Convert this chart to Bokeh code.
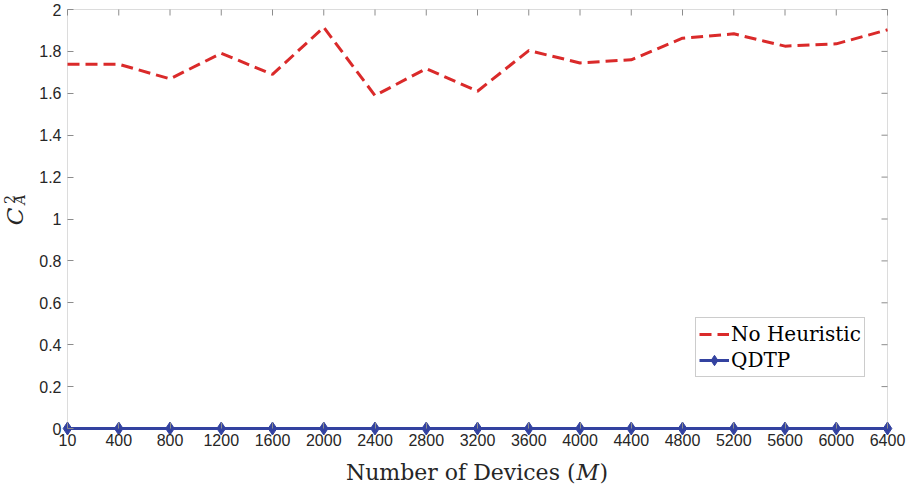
import math
from bokeh.plotting import figure
from bokeh.models import FixedTicker, Label, Range1d, ColumnDataSource, BoxAnnotation
from bokeh.embed import file_html
from bokeh.resources import INLINE

# ---- data ----
devices = ["10", "400", "800", "1200", "1600", "2000", "2400", "2800", "3200",
           "3600", "4000", "4400", "4800", "5200", "5600", "6000", "6400"]
no_heuristic = [1.739, 1.739, 1.669, 1.791, 1.690, 1.915, 1.589, 1.718, 1.610,
                1.804, 1.745, 1.760, 1.863, 1.884, 1.825, 1.836, 1.903]
qdtp = [0.0, 0.0, 0.0, 0.0, 0.0, 0.0, 0.0, 0.0, 0.0,
        0.0, 0.0, 0.0, 0.0, 0.0, 0.0, 0.0, 0.0]
y_ticks = [0, 0.2, 0.4, 0.6, 0.8, 1, 1.2, 1.4, 1.6, 1.8, 2]
y_tick_labels = ["0", "0.2", "0.4", "0.6", "0.8", "1", "1.2", "1.4", "1.6", "1.8", "2"]

RED = "#DA2A2A"
BLUE = "#3342A0"
AX = "#8c8c8c"
TXT = "#262626"

W, H = 914, 484
BOX_L, BOX_R, BOX_T, BOX_B = 67, 887, 9, 428   # axes box in canvas pixels

xpos = list(range(len(devices)))
x_lo, x_hi = xpos[0], xpos[-1]
y_lo, y_hi = y_ticks[0], y_ticks[-1]
PX_X = (BOX_R - BOX_L) / (x_hi - x_lo)
PX_Y = (BOX_B - BOX_T) / (y_hi - y_lo)

src = ColumnDataSource(dict(x=xpos, nh=no_heuristic, q=qdtp))

# frame covers the whole canvas; axes are placed at the box edges
p = figure(width=W, height=H, output_backend="svg", toolbar_location=None, title=None,
           x_range=Range1d(x_lo - BOX_L / PX_X, x_hi + (W - BOX_R) / PX_X),
           y_range=Range1d(y_lo - (H - BOX_B) / PX_Y, y_hi + BOX_T / PX_Y),
           min_border=0, min_border_left=0, min_border_right=0,
           min_border_top=0, min_border_bottom=0)
p.background_fill_color = "white"
p.border_fill_color = "white"
p.outline_line_color = None
p.xgrid.visible = False
p.ygrid.visible = False

xa = p.xaxis[0]
xa.ticker = FixedTicker(ticks=xpos)
xa.major_label_overrides = {i: d for i, d in enumerate(devices)}
xa.fixed_location = y_lo
ya = p.yaxis[0]
ya.ticker = FixedTicker(ticks=y_ticks)
ya.major_label_overrides = {t: l for t, l in zip(y_ticks, y_tick_labels)}
ya.fixed_location = x_lo

for ax in (xa, ya):
    ax.axis_line_color = None
    ax.major_tick_line_color = AX
    ax.major_tick_in = 6
    ax.major_tick_out = 0
    ax.minor_tick_line_color = None
    ax.major_label_text_font = "Liberation Sans"
    ax.major_label_text_font_size = "16px"
    ax.major_label_text_color = TXT
xa.major_label_standoff = 5
ya.major_label_standoff = 6

# axes box
p.add_layout(BoxAnnotation(left=x_lo, right=x_hi, bottom=y_lo, top=y_hi,
                           fill_alpha=0, line_color=AX, line_width=1, level="underlay"))

# inward ticks on top and right edges of the box
p.segment(x0=xpos, x1=xpos, y0=[y_hi] * len(xpos), y1=[y_hi - 6 / PX_Y] * len(xpos),
          line_color=AX, line_width=1)
p.segment(x0=[x_hi] * len(y_ticks), x1=[x_hi - 6 / PX_X] * len(y_ticks),
          y0=y_ticks, y1=y_ticks, line_color=AX, line_width=1)

# ---- series ----
p.line("x", "nh", source=src, line_color=RED, line_width=3, line_dash="12 6",
       legend_label="No Heuristic")
p.line("x", "q", source=src, line_color=BLUE, line_width=3, legend_label="QDTP")
p.scatter("x", "q", source=src, marker="diamond", size=13, fill_color=BLUE,
          line_color=BLUE, legend_label="QDTP")

lg = p.legend[0]
lg.location = (695, H - 377)
lg.label_text_font = "DejaVu Serif"
lg.label_text_font_size = "20px"
lg.label_text_color = "black"
lg.border_line_color = "#9a9a9a"
lg.border_line_width = 1
lg.background_fill_color = "white"
lg.background_fill_alpha = 1
lg.padding = 3
lg.spacing = 0
lg.margin = 0
lg.glyph_width = 30
lg.glyph_height = 26
lg.label_height = 26
lg.label_standoff = 2


def to_x(px):
    return x_lo + (px - BOX_L) / PX_X


def to_y(py):
    return y_lo + (BOX_B - py) / PX_Y


# ---- y axis label C_A^2 (rotated) ----
for txt, px, py, size, style in [("C", 14, 216, "23px", "italic"),
                                  ("2", 8.5, 199, "14px", "normal"),
                                  ("A", 19.5, 199, "14px", "italic")]:
    p.add_layout(Label(x=to_x(px), y=to_y(py), text=txt,
                       angle=math.pi / 2, text_align="center", text_baseline="middle",
                       text_font="DejaVu Serif", text_font_style=style,
                       text_font_size=size, text_color=TXT))

# ---- x axis label: Number of Devices (M) ----
base = to_y(472)
p.add_layout(Label(x=to_x(575), y=base, text="Number of Devices (", text_align="right",
                   text_baseline="alphabetic", text_font="DejaVu Serif",
                   text_font_size="22px", text_color=TXT))
p.add_layout(Label(x=to_x(576), y=base, text="M", text_align="left",
                   text_baseline="alphabetic", text_font="DejaVu Serif",
                   text_font_style="italic", text_font_size="22px", text_color=TXT))
p.add_layout(Label(x=to_x(599), y=base, text=")", text_align="left",
                   text_baseline="alphabetic", text_font="DejaVu Serif",
                   text_font_size="22px", text_color=TXT))

open("out.html", "w").write(file_html(p, INLINE))
